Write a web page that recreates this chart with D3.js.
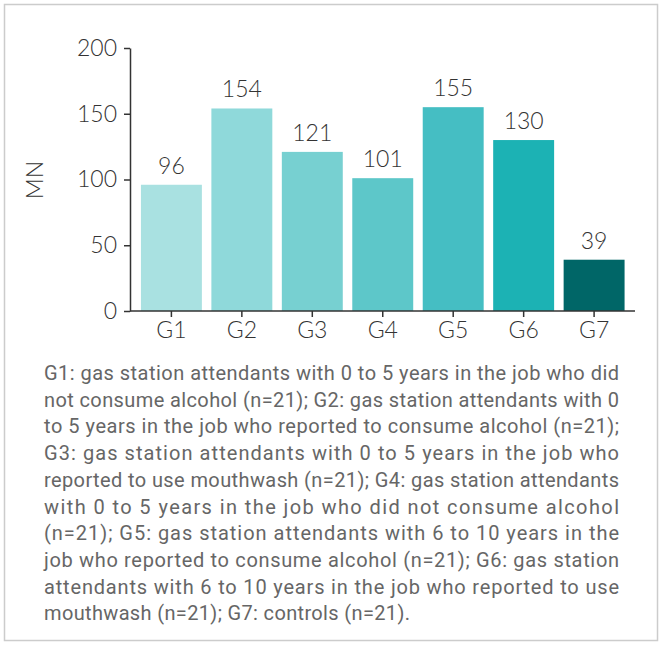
<!DOCTYPE html>
<html>
<head>
<meta charset="utf-8">
<script src="https://cdn.jsdelivr.net/npm/d3@7"></script>
<style>
  html, body { margin: 0; padding: 0; background: #fff; }
  svg { display: block; }
</style>
</head>
<body>
<script>
const categories = ["G1", "G2", "G3", "G4", "G5", "G6", "G7"];
const values = [96, 154, 121, 101, 155, 130, 39];
const barColors = ["#a9e1e1", "#8fd9da", "#77d0d1", "#5dc7c9", "#45bec3", "#1cb2b4", "#006667"];
const yTicks = [0, 50, 100, 150, 200];
const yLabel = "MN";
const captionLines = [
  "G1: gas station attendants with 0 to 5 years in the job who did",
  "not consume alcohol (n=21); G2: gas station attendants with 0",
  "to 5 years in the job who reported to consume alcohol (n=21);",
  "G3: gas station attendants with 0 to 5 years in the job who",
  "reported to use mouthwash (n=21); G4: gas station attendants",
  "with 0 to 5 years in the job who did not consume alcohol",
  "(n=21); G5: gas station attendants with 6 to 10 years in the",
  "job who reported to consume alcohol (n=21); G6: gas station",
  "attendants with 6 to 10 years in the job who reported to use",
  "mouthwash (n=21); G7: controls (n=21)."
];

const W = 662, H = 646;
const svg = d3.select("body").append("svg").attr("width", W).attr("height", H);

// frame
svg.append("rect").attr("x", 4.5).attr("y", 4.5).attr("width", 653).attr("height", 636)
  .attr("fill", "#fff").attr("stroke", "#cccccc").attr("stroke-width", 1.5);

const x = d3.scaleBand().domain(categories).range([136, 629.5]).paddingInner(0.135).paddingOuter(0.07);
const y = d3.scaleLinear().domain([0, 200]).range([311, 48]);

const font = "Lato, 'Open Sans', sans-serif";
const ink = "#333333";

// bars
svg.append("g").selectAll("rect").data(values).join("rect")
  .attr("x", (d, i) => x(categories[i]))
  .attr("width", x.bandwidth())
  .attr("y", d => y(d))
  .attr("height", d => y(0) - y(d))
  .attr("fill", (d, i) => barColors[i]);

// value labels
svg.append("g").selectAll("text").data(values).join("text")
  .attr("x", (d, i) => x(categories[i]) + x.bandwidth() / 2)
  .attr("y", d => y(d) - 11)
  .attr("text-anchor", "middle")
  .attr("font-family", font).attr("font-weight", 300)
  .attr("font-size", 23).attr("fill", ink)
  .text(d => d);

// y axis
const yAxis = d3.axisLeft(y).tickValues(yTicks).tickSize(6).tickPadding(7).tickSizeOuter(0);
const gy = svg.append("g").attr("transform", "translate(130,0)").call(yAxis);
gy.select(".domain").attr("stroke", ink).attr("stroke-width", 1.5);
gy.selectAll(".tick line").attr("stroke", ink).attr("stroke-width", 1.5);
gy.selectAll(".tick text").attr("font-family", font).attr("font-weight", 300)
  .attr("font-size", 23).attr("fill", ink);

// x axis
const xAxis = d3.axisBottom(x).tickSize(6).tickPadding(5).tickSizeOuter(0);
const gx = svg.append("g").attr("transform", "translate(0,311)").call(xAxis);
gx.select(".domain").remove();
gx.append("line").attr("x1", 130).attr("x2", 635).attr("y1", 0).attr("y2", 0)
  .attr("stroke", ink).attr("stroke-width", 1.5);
gx.selectAll(".tick line").attr("stroke", ink).attr("stroke-width", 1.5);
gx.selectAll(".tick text").attr("font-family", font).attr("font-weight", 300)
  .attr("font-size", 23).attr("fill", ink);

// y label
svg.append("text")
  .attr("transform", "translate(43,180) rotate(-90)")
  .attr("text-anchor", "middle")
  .attr("font-family", font).attr("font-weight", 300)
  .attr("font-size", 23).attr("fill", ink)
  .text(yLabel);

// caption
const cap = svg.append("g");
captionLines.forEach((line, i) => {
  const t = cap.append("text")
    .attr("x", 44)
    .attr("y", 380 + i * 26.7)
    .attr("font-family", "Roboto, sans-serif")
    .attr("font-size", 20)
    .attr("fill", "#666666")
    .text(line);
  const natural = t.node().getComputedTextLength();
  const target = i < captionLines.length - 1 ? 575 : 366;
  if (natural > target) {
    t.attr("font-size", 20 * target / natural);
  } else {
    t.attr("textLength", target).attr("lengthAdjust", "spacing");
  }
});
</script>
</body>
</html>
